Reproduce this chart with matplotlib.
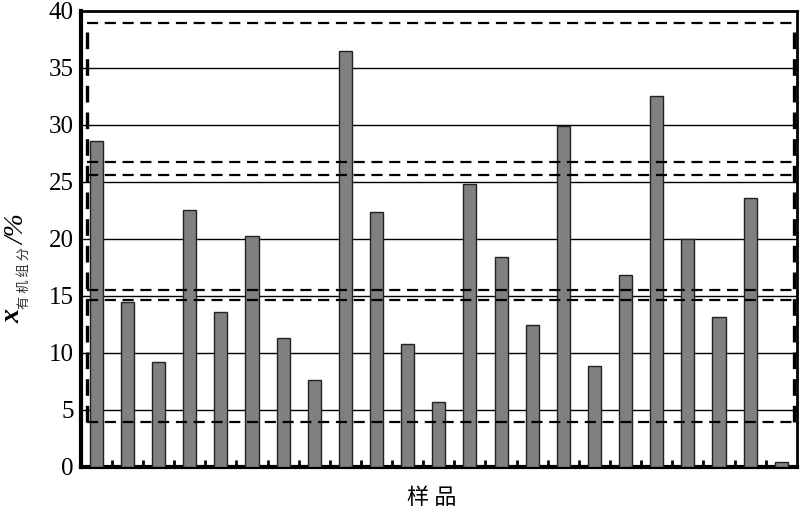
import numpy as np
import matplotlib.pyplot as plt

# 数据 各样品有机组分含量(%)
values = [28.6, 14.4, 9.2, 22.5, 13.6, 20.2, 11.3, 7.6, 36.5, 22.3, 10.8, 5.7,
          24.8, 18.4, 12.4, 29.9, 8.8, 16.8, 32.5, 20.0, 13.1, 23.6, 0.4]
grid_levels = [5, 10, 15, 20, 25, 30, 35]
dash_levels = [26.7, 25.55, 15.5, 14.65]
box_bottom, box_top = 3.9, 38.9
box_left, box_right = -0.3, 22.42
yticks = [0, 5, 10, 15, 20, 25, 30, 35, 40]

serif = ['Liberation Serif', 'DejaVu Serif']
cjk = ['Noto Sans CJK SC', 'DejaVu Sans']

fig = plt.figure(figsize=(8, 5.13), dpi=100)
ax = fig.add_axes([0.101, 0.0903, 0.895, 0.889])

x = np.arange(len(values))
ax.bar(x, values, width=0.42, color='#808080', edgecolor='#222222', linewidth=1.0, zorder=3)

# 网格线(实线) 在柱子后面
for g in grid_levels:
    ax.axhline(g, color='black', linewidth=1.0, zorder=1)

# 虚线 在柱子上面
for d in dash_levels:
    ax.hlines(d, box_left, 22.5, colors='black', linestyles=(0, (5, 3)), linewidth=1.6, zorder=4)
ax.hlines([box_bottom, box_top], box_left, box_right, colors='black', linestyles=(0, (5, 3)), linewidth=1.6, zorder=4)
ax.vlines([box_left, box_right], box_bottom, box_top, colors='black', linestyles=(0, (5, 3)), linewidth=2.4, zorder=4)

ax.set_xlim(-0.5, 22.5)
ax.set_ylim(0, 40)
ax.set_yticks(yticks)
ax.set_yticklabels([str(t) for t in yticks], family=serif, fontsize=18)
ax.tick_params(axis='y', length=0, pad=5)
ax.set_xticks(np.arange(len(values) - 1) + 0.5)
ax.set_xticklabels([])
ax.tick_params(axis='x', direction='in', length=5, width=2)

for side in ['left', 'bottom']:
    ax.spines[side].set_linewidth(3)
for side in ['top', 'right']:
    ax.spines[side].set_linewidth(2)

# 坐标轴标题
fig.text(0.0165, 1 - 316 / 513, 'x', family=serif, fontsize=20, style='italic', fontweight='bold',
         rotation=90, ha='center', va='center')
fig.text(0.030, 1 - 278 / 513, '有 机 组 分', family=cjk, fontsize=9.5, color='#333333',
         rotation=90, ha='center', va='center')
fig.text(0.0225, 1 - 230 / 513, '/%', family=serif, fontsize=20, style='italic',
         rotation=90, ha='center', va='center')
fig.text(0.54, 1 - 497 / 513, '样 品', family=cjk, fontsize=16, ha='center', va='center')

fig.savefig('out.png', dpi=100)
